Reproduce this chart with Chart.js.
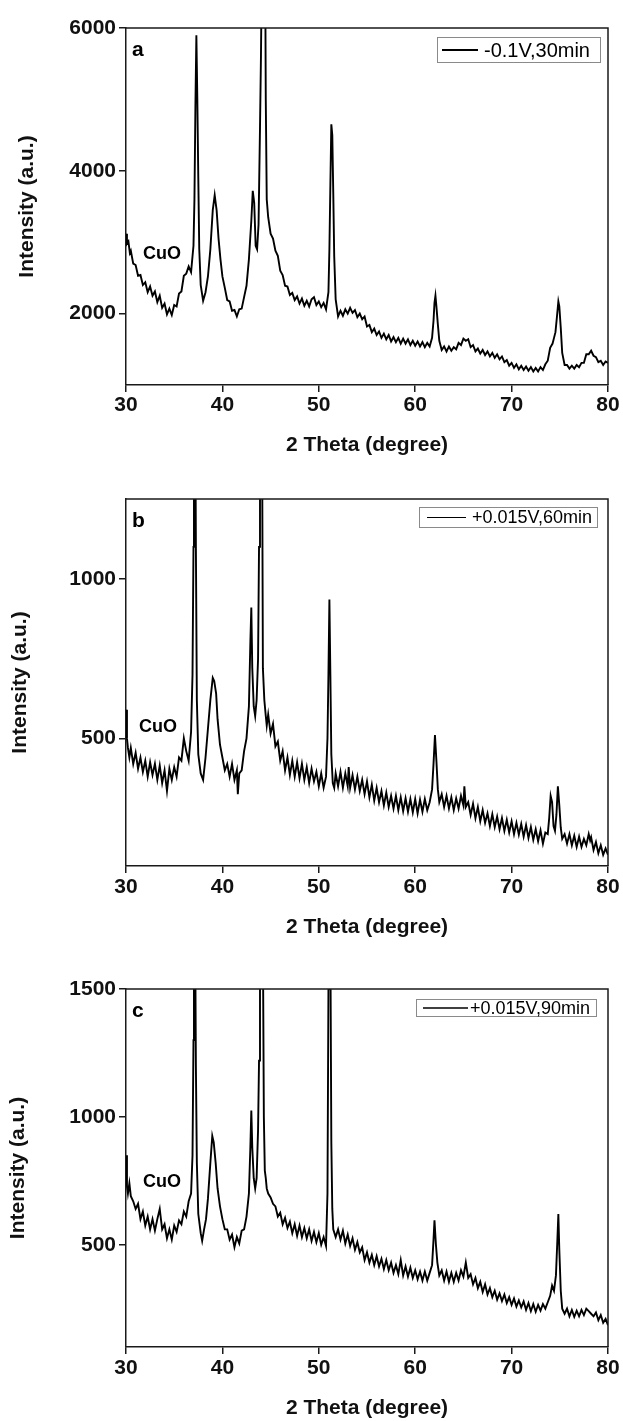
<!DOCTYPE html>
<html>
<head>
<meta charset="utf-8">
<script src="https://cdn.jsdelivr.net/npm/chart.js@4.4.1/dist/chart.umd.min.js"></script>
<style>
html,body{margin:0;padding:0;background:#fff;}
body{width:623px;height:1421px;position:relative;overflow:hidden;}
.panel{position:absolute;left:0;width:623px;}
canvas{display:block;}
</style>
</head>
<body>
<div class="panel" style="top:0px;height:470px"><canvas id="cA" width="623" height="470"></canvas></div>
<div class="panel" style="top:470px;height:470px"><canvas id="cB" width="623" height="470"></canvas></div>
<div class="panel" style="top:940px;height:481px"><canvas id="cC" width="623" height="481"></canvas></div>
<script>
// ---------- DATA ----------
const xTicks = [30, 40, 50, 60, 70, 80];
const yTicksA = [2000, 4000, 6000];
const yTicksB = [500, 1000];
const yTicksC = [500, 1000, 1500];
const seriesLabels = ['-0.1V,30min', '+0.015V,60min', '+0.015V,90min'];
const panelLetters = ['a', 'b', 'c'];
const phaseLabel = 'CuO';
const xTitle = '2 Theta (degree)';
const yTitle = 'Intensity (a.u.)';

const thetaA = [30.0,30.1,30.25,30.4,30.5,30.75,31.0,31.25,31.5,31.75,32.0,32.25,32.5,32.75,33.0,33.25,33.5,33.75,34.0,34.25,34.5,34.75,35.0,35.25,35.5,35.75,36.0,36.25,36.5,36.75,37.0,37.1,37.2,37.3,37.4,37.5,37.6,37.75,38.0,38.25,38.5,38.75,39.0,39.2,39.4,39.6,39.8,40.0,40.25,40.5,40.75,41.0,41.25,41.5,41.75,42.0,42.25,42.5,42.75,43.0,43.15,43.3,43.45,43.6,43.75,43.9,44.0,44.1,44.2,44.3,44.4,44.5,44.6,44.75,45.0,45.25,45.5,45.75,46.0,46.25,46.5,46.75,47.0,47.25,47.5,47.75,48.0,48.25,48.5,48.75,49.0,49.25,49.5,49.75,50.0,50.25,50.5,50.75,51.0,51.1,51.2,51.3,51.4,51.5,51.6,51.75,52.0,52.25,52.5,52.75,53.0,53.25,53.5,53.75,54.0,54.25,54.5,54.75,55.0,55.25,55.5,55.75,56.0,56.25,56.5,56.75,57.0,57.25,57.5,57.75,58.0,58.25,58.5,58.75,59.0,59.25,59.5,59.75,60.0,60.25,60.5,60.75,61.0,61.25,61.5,61.75,61.9,62.0,62.1,62.2,62.35,62.5,62.75,63.0,63.25,63.5,63.75,64.0,64.25,64.5,64.75,65.0,65.25,65.5,65.75,66.0,66.25,66.5,66.75,67.0,67.25,67.5,67.75,68.0,68.25,68.5,68.75,69.0,69.25,69.5,69.75,70.0,70.25,70.5,70.75,71.0,71.25,71.5,71.75,72.0,72.25,72.5,72.75,73.0,73.25,73.5,73.75,74.0,74.25,74.4,74.55,74.7,74.85,74.95,75.1,75.25,75.5,75.75,76.0,76.25,76.5,76.75,77.0,77.25,77.5,77.75,78.0,78.25,78.5,78.75,79.0,79.25,79.5,79.75,80.0];
const intensityA = [3120,2980,3010,2850,2880,2700,2680,2530,2540,2400,2440,2300,2380,2250,2310,2160,2250,2080,2140,1990,2070,1980,2120,2100,2280,2310,2530,2560,2660,2580,2950,3600,4900,5900,5000,3900,2900,2400,2180,2300,2520,2900,3450,3660,3450,3050,2760,2520,2360,2190,2170,2040,2050,1960,2060,2070,2230,2390,2760,3300,3720,3550,2950,2900,3250,4600,5600,7000,8500,9000,8000,5000,3600,3350,3120,3050,2880,2810,2600,2540,2390,2380,2260,2290,2190,2240,2140,2210,2110,2180,2100,2200,2230,2120,2170,2090,2150,2060,2300,2900,3800,4650,4500,3700,2800,2200,1960,2040,1970,2060,2000,2080,2010,2050,1950,2000,1920,1960,1820,1840,1740,1790,1700,1750,1660,1720,1640,1700,1610,1670,1600,1660,1580,1650,1580,1640,1560,1620,1550,1610,1540,1600,1530,1590,1540,1660,1900,2150,2250,2100,1850,1620,1490,1540,1470,1540,1480,1530,1500,1590,1560,1650,1620,1640,1530,1560,1470,1510,1440,1490,1420,1470,1400,1450,1380,1430,1360,1400,1320,1350,1270,1310,1240,1290,1220,1270,1210,1260,1200,1250,1190,1240,1190,1250,1210,1290,1340,1520,1580,1660,1740,1950,2170,2100,1800,1450,1280,1280,1230,1270,1230,1280,1250,1310,1310,1430,1430,1480,1410,1390,1320,1340,1280,1330,1310];

const thetaB = [30.0,30.1,30.2,30.35,30.5,30.75,31.0,31.25,31.5,31.75,32.0,32.25,32.5,32.75,33.0,33.25,33.5,33.75,34.0,34.25,34.5,34.75,35.0,35.25,35.5,35.75,36.0,36.25,36.5,36.75,36.9,37.0,37.05,37.1,37.15,37.25,37.35,37.5,37.75,38.0,38.25,38.5,38.75,39.0,39.15,39.35,39.5,39.75,40.0,40.25,40.5,40.75,41.0,41.25,41.5,41.6,41.75,42.0,42.25,42.5,42.75,42.9,43.0,43.1,43.25,43.4,43.55,43.7,43.8,43.9,44.0,44.1,44.2,44.35,44.5,44.6,44.75,45.0,45.25,45.5,45.75,46.0,46.25,46.5,46.75,47.0,47.25,47.5,47.75,48.0,48.25,48.5,48.75,49.0,49.25,49.5,49.75,50.0,50.25,50.5,50.75,50.9,51.0,51.1,51.2,51.3,51.45,51.6,51.75,52.0,52.25,52.5,52.75,53.0,53.1,53.25,53.5,53.75,54.0,54.25,54.5,54.75,55.0,55.25,55.5,55.75,56.0,56.25,56.5,56.75,57.0,57.25,57.5,57.75,58.0,58.25,58.5,58.75,59.0,59.25,59.5,59.75,60.0,60.25,60.5,60.75,61.0,61.25,61.5,61.75,61.9,62.05,62.2,62.35,62.5,62.75,63.0,63.25,63.5,63.75,64.0,64.25,64.5,64.75,65.0,65.1,65.25,65.5,65.75,66.0,66.25,66.5,66.75,67.0,67.25,67.5,67.75,68.0,68.25,68.5,68.75,69.0,69.25,69.5,69.75,70.0,70.25,70.5,70.75,71.0,71.25,71.5,71.75,72.0,72.25,72.5,72.75,73.0,73.25,73.5,73.75,73.9,74.05,74.2,74.35,74.5,74.65,74.8,74.95,75.1,75.25,75.5,75.75,76.0,76.25,76.5,76.75,77.0,77.25,77.5,77.75,78.0,78.15,78.25,78.5,78.75,79.0,79.25,79.5,79.75,80.0];
const intensityB = [590,500,470,440,470,420,455,405,440,395,430,380,425,385,420,370,415,360,400,335,405,370,410,380,440,430,500,460,430,520,700,1100,1800,2000,1800,1100,620,450,390,370,440,530,620,690,680,640,560,480,440,400,420,380,420,370,400,325,390,400,460,500,600,800,910,720,600,570,620,750,1100,1700,2000,1600,720,620,570,540,575,515,545,475,490,430,460,400,440,385,430,380,425,375,420,370,410,360,405,365,395,350,390,345,380,500,700,935,700,450,360,345,390,350,395,345,390,350,410,345,385,340,380,335,370,325,365,315,355,305,345,300,335,290,330,285,320,280,320,275,315,272,312,270,310,268,310,265,308,270,310,275,300,340,420,510,430,340,300,325,285,320,280,315,275,312,280,320,290,350,285,300,260,295,250,285,240,275,235,265,225,262,222,255,215,250,210,245,205,240,200,235,198,232,192,228,188,222,182,215,178,212,170,205,200,250,320,300,225,210,260,350,290,220,185,200,170,200,165,195,160,192,160,185,165,200,180,190,150,175,140,165,135,155,135];

const thetaC = [30.0,30.1,30.2,30.35,30.5,30.75,31.0,31.25,31.5,31.75,32.0,32.25,32.5,32.75,33.0,33.25,33.5,33.75,34.0,34.25,34.5,34.75,35.0,35.25,35.5,35.75,36.0,36.25,36.5,36.75,36.9,37.0,37.05,37.1,37.15,37.25,37.35,37.5,37.75,37.9,38.1,38.3,38.5,38.75,38.95,39.1,39.3,39.5,39.75,40.0,40.25,40.5,40.75,41.0,41.25,41.5,41.75,42.0,42.25,42.5,42.75,42.9,43.0,43.1,43.25,43.4,43.55,43.7,43.8,43.9,44.0,44.1,44.2,44.3,44.4,44.5,44.6,44.75,45.0,45.25,45.5,45.75,46.0,46.25,46.5,46.75,47.0,47.25,47.5,47.75,48.0,48.25,48.5,48.75,49.0,49.25,49.5,49.75,50.0,50.25,50.5,50.75,50.9,51.0,51.05,51.1,51.2,51.3,51.4,51.5,51.75,52.0,52.25,52.5,52.75,53.0,53.25,53.5,53.75,54.0,54.25,54.5,54.75,55.0,55.25,55.5,55.75,56.0,56.25,56.5,56.75,57.0,57.25,57.5,57.75,58.0,58.25,58.5,58.75,59.0,59.25,59.5,59.75,60.0,60.25,60.5,60.75,61.0,61.25,61.5,61.75,61.9,62.0,62.15,62.3,62.5,62.75,63.0,63.25,63.5,63.75,64.0,64.25,64.5,64.75,65.0,65.25,65.5,65.75,66.0,66.25,66.5,66.75,67.0,67.25,67.5,67.75,68.0,68.25,68.5,68.75,69.0,69.25,69.5,69.75,70.0,70.25,70.5,70.75,71.0,71.25,71.5,71.75,72.0,72.25,72.5,72.75,73.0,73.25,73.5,73.75,74.0,74.2,74.4,74.6,74.75,74.85,74.95,75.1,75.25,75.5,75.75,76.0,76.25,76.5,76.75,77.0,77.25,77.5,77.75,78.0,78.25,78.5,78.75,79.0,79.25,79.5,79.75,80.0];
const intensityC = [850,730,700,740,690,670,640,660,600,630,575,610,560,600,555,600,640,560,580,525,560,520,575,550,595,580,630,610,670,700,850,1300,1900,2200,1900,1200,820,620,545,515,560,600,680,820,925,900,820,720,650,600,560,560,520,540,490,530,505,555,560,610,700,880,1025,880,760,720,760,950,1220,1700,2200,2300,1700,1000,790,760,720,700,685,660,650,610,625,580,605,565,590,545,580,535,575,530,565,525,560,515,550,510,545,500,530,495,700,1500,2000,2300,1700,900,640,560,530,560,520,555,505,540,495,525,480,510,470,490,440,470,430,460,420,455,415,445,405,440,400,430,390,420,385,440,380,415,375,410,370,400,365,395,360,395,360,390,420,520,595,500,430,380,400,360,395,355,390,355,390,360,400,375,430,370,385,345,370,330,355,315,345,305,330,295,320,285,310,280,305,272,295,265,290,258,282,255,278,245,272,240,268,238,265,242,268,250,275,300,340,320,380,520,620,480,320,250,230,250,220,245,218,242,220,245,225,250,240,230,220,235,205,225,195,210,185];

// ---------- RENDERING ----------
const FONT = "'Liberation Sans', Arial, Helvetica, sans-serif";

function makePanel(canvasId, theta, intensity, o) {
  const points = theta.map((t, i) => ({x: t, y: intensity[i]}));
  const decor = {
    id: 'decor' + canvasId,
    afterDraw(chart) {
      const ctx = chart.ctx;
      const a = chart.chartArea;
      const xs = chart.scales.x, ys = chart.scales.y;
      ctx.save();
      ctx.strokeStyle = '#1a1a1a';
      ctx.lineWidth = 1.5;
      ctx.beginPath();
      ctx.moveTo(a.left, a.top); ctx.lineTo(a.right, a.top); ctx.lineTo(a.right, a.bottom);
      ctx.stroke();
      ctx.fillStyle = '#000';
      ctx.font = 'bold 21px ' + FONT;
      ctx.textAlign = 'left';
      ctx.textBaseline = 'alphabetic';
      ctx.fillText(o.letter, a.left + 6, a.top + 28);
      ctx.font = 'bold 18px ' + FONT;
      ctx.fillText(phaseLabel, xs.getPixelForValue(o.cuo[0]), ys.getPixelForValue(o.cuo[1]));
      const bx = a.right - o.lg.right - o.lg.w, by = a.top + o.lg.top;
      ctx.strokeStyle = '#8a8a8a';
      ctx.lineWidth = 1;
      ctx.strokeRect(bx + 0.5, by + 0.5, o.lg.w, o.lg.h);
      const cy = by + o.lg.h / 2 + 0.5;
      ctx.strokeStyle = '#000';
      ctx.lineWidth = o.lg.lw;
      ctx.beginPath();
      ctx.moveTo(bx + o.lg.l0, cy); ctx.lineTo(bx + o.lg.l1, cy);
      ctx.stroke();
      ctx.font = o.lg.fs + 'px ' + FONT;
      ctx.textBaseline = 'middle';
      ctx.fillText(o.label, bx + o.lg.tx, cy + 1);
      ctx.restore();
    }
  };
  return new Chart(document.getElementById(canvasId), {
    type: 'line',
    data: {
      datasets: [{
        label: o.label,
        data: points,
        borderColor: '#000',
        borderWidth: 1.9,
        pointRadius: 0,
        tension: 0,
        fill: false
      }]
    },
    options: {
      responsive: false,
      animation: false,
      devicePixelRatio: 1,
      layout: {padding: {left: 0, right: 15, top: o.top, bottom: 0}},
      plugins: {legend: {display: false}, tooltip: {enabled: false}},
      scales: {
        x: {
          type: 'linear',
          min: 30, max: 80,
          afterBuildTicks: s => { s.ticks = xTicks.map(v => ({value: v})); },
          afterFit: s => { s.height = o.xh; },
          ticks: {color: '#111', padding: o.xpad, font: {family: FONT, size: 21, weight: 'bold'}, maxRotation: 0, callback: v => String(v)},
          grid: {drawOnChartArea: false, drawTicks: true, tickLength: 7, color: '#1a1a1a', lineWidth: 1.5},
          border: {display: true, color: '#1a1a1a', width: 1.5},
          title: {display: true, text: xTitle, color: '#111', font: {family: FONT, size: 21, weight: 'bold'}, padding: {top: 0, bottom: o.xtpad}}
        },
        y: {
          type: 'linear',
          min: o.ymin, max: o.ymax,
          afterBuildTicks: s => { s.ticks = o.yTicks.map(v => ({value: v})); },
          afterFit: s => { s.width = 126; },
          ticks: {color: '#111', padding: 3, font: {family: FONT, size: 21, weight: 'bold'}, callback: v => String(v)},
          grid: {drawOnChartArea: false, drawTicks: true, tickLength: 7, color: '#1a1a1a', lineWidth: 1.5},
          border: {display: true, color: '#1a1a1a', width: 1.5},
          title: {display: true, text: yTitle, color: '#111', font: {family: FONT, size: 21, weight: 'bold'}, padding: {top: o.ytpad, bottom: 0}}
        }
      }
    },
    plugins: [decor]
  });
}

makePanel('cA', thetaA, intensityA, {
  label: seriesLabels[0], letter: panelLetters[0], ymin: 1000, ymax: 6000, yTicks: yTicksA,
  top: 28, xh: 85, xpad: 1, xtpad: 12, ytpad: 15, cuo: [31.76, 2764],
  lg: {right: 8, top: 9, w: 163, h: 25, l0: 5, l1: 41, tx: 47, fs: 20, lw: 2}
});
makePanel('cB', thetaB, intensityB, {
  label: seriesLabels[1], letter: panelLetters[1], ymin: 100, ymax: 1250, yTicks: yTicksB,
  top: 29, xh: 74, xpad: 2, xtpad: 0, ytpad: 8, cuo: [31.35, 520],
  lg: {right: 11, top: 8, w: 178, h: 20, l0: 8, l1: 47, tx: 53, fs: 18, lw: 1.2}
});
makePanel('cC', thetaC, intensityC, {
  label: seriesLabels[2], letter: panelLetters[2], ymin: 100, ymax: 1500, yTicks: yTicksC,
  top: 49, xh: 74, xpad: 2, xtpad: 0, ytpad: 6, cuo: [31.76, 726],
  lg: {right: 12, top: 10, w: 180, h: 17, l0: 7, l1: 52, tx: 54, fs: 18, lw: 1.5}
});
</script>
</body>
</html>
